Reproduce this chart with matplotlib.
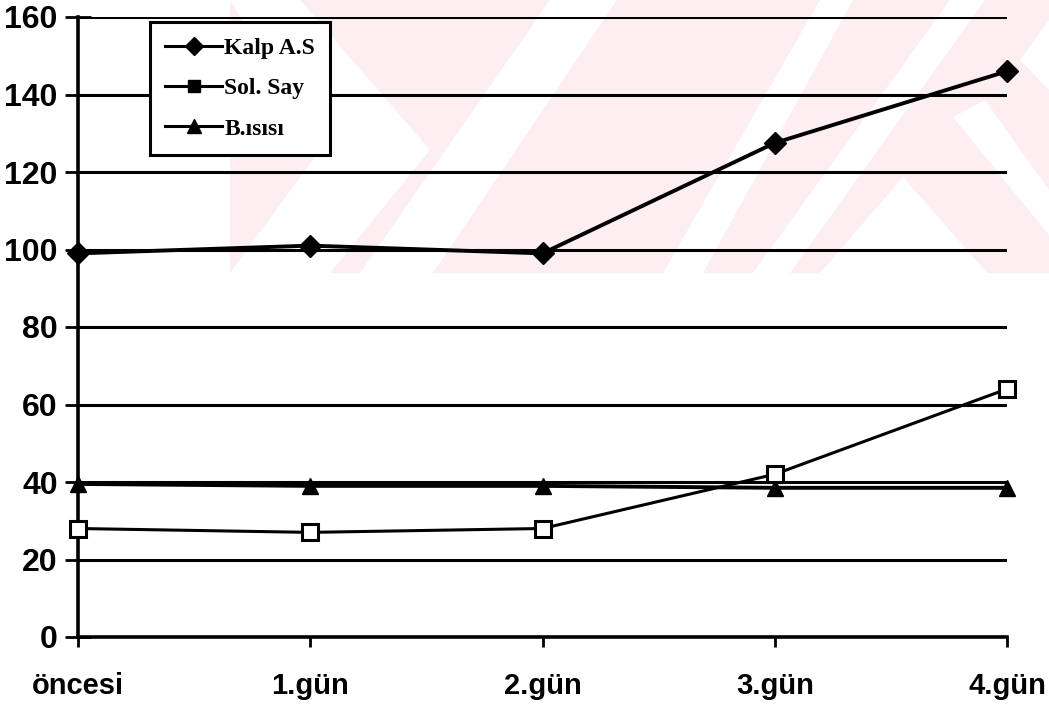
import numpy as np
import matplotlib.pyplot as plt
from matplotlib.lines import Line2D
from matplotlib.patches import Polygon

days = ["öncesi", "1.gün", "2.gün", "3.gün", "4.gün"]
kalp = [99, 101, 99, 127.5, 146]
sol_say = [28, 27, 28, 42, 64]
b_isisi = [39.5, 39, 39, 38.5, 38.5]
labels = ["Kalp A.S", "Sol. Say", "B.ısısı"]
y_ticks = [0, 20, 40, 60, 80, 100, 120, 140, 160]
y_ticklabels = ["0", "20", "40", "60", "80", "100", "120", "140", "160"]

W, H = 1049, 709
fig = plt.figure(figsize=(W / 100, H / 100), dpi=100)

# faint pink watermark of the scan (pixel coords -> figure fraction)
def px(pts):
    return [(x / W, 1 - y / H) for x, y in pts]

pink = "#fdeef1"
fig.patches.append(Polygon(px([(230, 0), (1049, 0), (1049, 273), (230, 273)]),
                           closed=True, transform=fig.transFigure,
                           facecolor=pink, edgecolor="none", zorder=-2))
white_bands = [
    [(230, 0), (300, 0), (430, 150), (330, 273), (230, 273), (320, 150)],
    [(360, 273), (433, 273), (617, 0), (550, 0)],
    [(663, 273), (703, 273), (853, 0), (820, 0)],
    [(753, 273), (790, 273), (985, 0), (950, 0)],
    [(820, 273), (903, 177), (987, 273)],
    [(953, 117), (985, 100), (1049, 190), (1049, 235)],
    [(1020, 60), (1049, 20), (1049, 90)],
]
for band in white_bands:
    fig.patches.append(Polygon(px(band), closed=True, transform=fig.transFigure,
                               facecolor="white", edgecolor="none", zorder=-1))

ax = fig.add_axes([78 / W, 1 - 637 / H, (1007 - 78) / W, (637 - 17) / H])
ax.set_facecolor("none")
ax.set_zorder(1)

x = np.arange(len(days))
ax.set_xlim(0, len(days) - 1)
ax.set_ylim(0, 160)

for yv in y_ticks[1:]:
    ax.axhline(yv, color="black", lw=2.2, zorder=1)

ax.plot(x, kalp, color="black", lw=2.8, marker="D", ms=11, mfc="black",
        mec="black", clip_on=False, zorder=3)
ax.plot(x, b_isisi, color="black", lw=2.8, marker="^", ms=12, mfc="black",
        mec="black", clip_on=False, zorder=3)
ax.plot(x, sol_say, color="black", lw=2.2, marker="s", ms=11, mfc="white",
        mec="black", mew=2.2, clip_on=False, zorder=4)

ax.set_yticks(y_ticks)
ax.set_yticklabels(y_ticklabels, fontsize=23, fontweight="bold",
                   family="Liberation Sans")
ax.set_xticks(x)
ax.set_xticklabels(days, fontsize=21, fontweight="bold", family="Liberation Sans")
ax.tick_params(axis="y", direction="inout", length=19, width=2, pad=5)
ax.tick_params(axis="x", direction="out", length=7, width=2, pad=18)

for s in ["top", "right"]:
    ax.spines[s].set_visible(False)
for s in ["left", "bottom"]:
    ax.spines[s].set_linewidth(2.6)

handles = [
    Line2D([], [], color="black", lw=2.2, marker="D", ms=9),
    Line2D([], [], color="black", lw=2.2, marker="s", ms=8),
    Line2D([], [], color="black", lw=2.2, marker="^", ms=10),
]
leg = ax.legend(handles, labels, loc="upper left", bbox_to_anchor=(0.0775, 0.992),
                prop={"family": "Liberation Serif", "weight": "bold", "size": 17},
                frameon=True, fancybox=False, edgecolor="black", framealpha=1,
                handlelength=2.4, handletextpad=0.1, labelspacing=0.8,
                borderpad=0.65, borderaxespad=0)
leg.get_frame().set_linewidth(2.2)

fig.savefig("out.png", dpi=100)
